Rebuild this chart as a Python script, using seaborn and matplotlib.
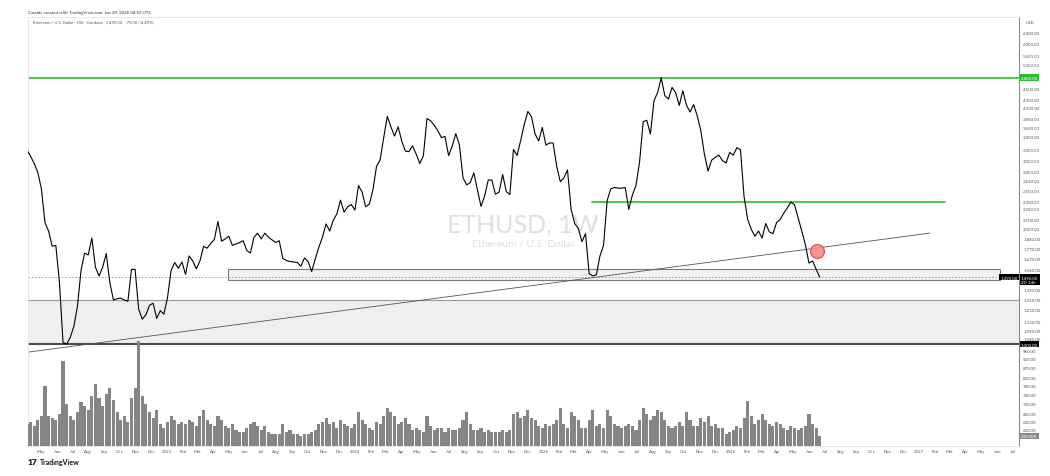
import matplotlib
matplotlib.use("Agg")
from matplotlib import pyplot as plt
import matplotlib.dates as mdates
import matplotlib.transforms as mtrans
from matplotlib.patches import Rectangle
from matplotlib.ticker import FixedLocator, NullLocator
import pandas as pd
import seaborn as sns

# ETHUSD weekly closes (USD), one value per week starting 2022-04-04
FIRST_WEEK = "2022-04-04"
close_2022 = [3180, 3060, 2930, 2780, 2520, 2060, 1960, 1790, 1800, 1450, 1010, 1000, 1040,
              1110, 1250, 1550, 1720, 1700, 1880, 1580, 1500, 1580, 1715, 1440, 1300, 1310,
              1315, 1300, 1290, 1560, 1560, 1230, 1160, 1190, 1260, 1275, 1165, 1220, 1195]
close_2023 = [1320, 1550, 1625, 1570, 1630, 1515, 1690, 1640, 1565, 1640, 1790, 1770, 1820,
              1865, 2075, 1845, 1870, 1900, 1800, 1815, 1830, 1850, 1745, 1720, 1890, 1935,
              1870, 1935, 1890, 1860, 1830, 1850, 1665, 1645, 1635, 1630, 1625, 1590, 1670,
              1635, 1540, 1660, 1780, 1890, 2045, 1960, 2090, 2170, 2355, 2195, 2265, 2295]
close_2024 = [2220, 2570, 2470, 2265, 2300, 2505, 2880, 2995, 3420, 3880, 3645, 3450, 3645,
              3350, 3155, 3145, 3255, 3100, 2930, 3070, 3830, 3780, 3680, 3565, 3420, 3440,
              3070, 3250, 3500, 3270, 2690, 2580, 2615, 2770, 2510, 2270, 2415, 2655, 2655,
              2440, 2470, 2745, 2480, 2435, 3185, 3075, 3360, 3700, 3995, 3870, 3495, 3350, 3630]
close_2025 = [3270, 3310, 3310, 2880, 2630, 2690, 2820, 2230, 2050, 1990, 1840, 1930, 1520,
              1500, 1510, 1690, 1800, 2350, 2520, 2540, 2530, 2530, 2540, 2230, 2430, 2570,
              2960, 3760, 3790, 3490, 4260, 4470, 4880, 4390, 4300, 4610, 4470, 4140, 4520,
              4150, 3980, 4160, 3890, 3560, 3090, 2800, 2990, 3040, 3080, 2980, 2940, 3130]
close_2026 = [3080, 3220, 3180, 2400, 2100, 1980, 1900, 1960, 1880, 2050, 1950, 1930, 2060,
              2100, 2180, 2250, 2330, 2290, 2120, 1960, 1810, 1620, 1640, 1560, 1490]

# weekly volume, thousands of ETH
vol_2022 = [440, 480, 400, 520, 600, 1200, 600, 560, 520, 640, 1700, 840, 600, 520, 680, 880,
            800, 720, 1000, 1240, 960, 800, 1040, 1160, 920, 680, 520, 600, 480, 960, 1160,
            2100, 1000, 840, 680, 560, 720, 440, 360]
vol_2023 = [480, 600, 520, 440, 480, 440, 520, 480, 400, 600, 720, 520, 440, 400, 600, 520,
            400, 360, 440, 320, 280, 280, 360, 440, 480, 400, 320, 400, 280, 240, 240, 240,
            440, 280, 320, 240, 240, 200, 240, 240, 280, 320, 440, 480, 560, 440, 480, 360,
            520, 440, 400, 360]
vol_2024 = [440, 680, 520, 440, 360, 320, 480, 440, 600, 760, 680, 600, 440, 480, 560, 440,
            320, 360, 320, 280, 600, 400, 320, 360, 360, 280, 360, 320, 320, 360, 520, 680,
            440, 320, 320, 360, 280, 320, 280, 280, 280, 320, 280, 320, 640, 680, 560, 600,
            720, 560, 520, 400, 360]
vol_2025 = [440, 400, 440, 520, 760, 440, 360, 680, 600, 520, 360, 360, 520, 720, 400, 440,
            360, 720, 600, 440, 400, 360, 400, 440, 400, 320, 520, 760, 640, 520, 600, 720,
            680, 520, 400, 360, 400, 480, 400, 680, 520, 400, 400, 560, 480, 600, 400, 440,
            360, 360, 240, 280]
vol_2026 = [320, 400, 360, 560, 900, 600, 440, 520, 640, 520, 440, 400, 480, 440, 360, 320,
            400, 360, 320, 360, 400, 640, 440, 360, 200]

# drawn levels and shapes
TOP_LEVEL = 4880.0
MID_LEVEL = 2330.0
MID_LEVEL_SPAN = ("2025-04-05", "2027-02-20")
BIG_ZONE = (1000.0, 1300.0)
SMALL_ZONE = (1460.0, 1560.0)
SMALL_ZONE_SPAN = ("2023-04-29", "2027-06-07")
TREND_A = ("2022-04-06", 953.0)
TREND_B = ("2027-01-22", 1936.0)
MARK = ("2026-06-17", 1740.0)

PRICE_TICKS = [6400, 6000, 5600, 5300, 5000, 4600, 4300, 4100, 3850, 3650, 3450, 3200,
               3000, 2800, 2650, 2500, 2350, 2250, 2100, 2000, 1880, 1770, 1670, 1560,
               1390, 1310, 1230, 1150, 1090, 1040, 960, 920, 870, 820, 780, 740, 700,
               660, 630, 600]

closes = close_2022 + close_2023 + close_2024 + close_2025 + close_2026
volumes = vol_2022 + vol_2023 + vol_2024 + vol_2025 + vol_2026
assert len(closes) == len(volumes)

df = pd.DataFrame({
    "week": pd.date_range(FIRST_WEEK, periods=len(closes), freq="7D"),
    "close": closes,
    "volume": volumes,
})

W, H = 1050, 477
XLIM = (pd.Timestamp("2022-04-06"), pd.Timestamp("2027-07-14"))
YLIM = (545, 7010)
GREEN = "#2dbd2d"


def rect(x0, y0, x1, y1):
    return [x0 / W, 1 - y1 / H, (x1 - x0) / W, (y1 - y0) / H]


sns.set_style("white")
plt.rcParams["font.family"] = ["Lato", "DejaVu Sans"]

fig = plt.figure(figsize=(10.5, 4.77), dpi=100)
ax = fig.add_axes(rect(28, 18, 1019, 447))
vax = fig.add_axes(rect(28, 18, 1019, 447))

# price pane
ax.set_yscale("log")
ax.axhspan(*BIG_ZONE, fc="#efefef", ec="none", zorder=0)
ax.axhline(BIG_ZONE[1], color="#9a9a9a", lw=0.8, zorder=1)
ax.axhline(BIG_ZONE[0], color="#4a4a4a", lw=1.5, zorder=1)
zx0 = mdates.date2num(pd.Timestamp(SMALL_ZONE_SPAN[0]))
zx1 = mdates.date2num(pd.Timestamp(SMALL_ZONE_SPAN[1]))
ax.add_patch(Rectangle((zx0, SMALL_ZONE[0]), zx1 - zx0, SMALL_ZONE[1] - SMALL_ZONE[0],
                       fc="#f1f1f1", ec="#7a7a7a", lw=0.8, zorder=1))
ax.axhline(df["close"].iloc[-1], color="#9a9a9a", lw=0.6, ls=(0, (2, 2)), zorder=1)

ax.text(0.4995, 0.5175, "ETHUSD, 1W", transform=ax.transAxes, ha="center", va="center",
        fontsize=18, color="#e0e0e0", zorder=0)
ax.text(0.4995, 0.473, "Ethereum / U.S. Dollar", transform=ax.transAxes, ha="center",
        va="center", fontsize=7.5, color="#e0e0e0", zorder=0)

ax.axhline(TOP_LEVEL, color=GREEN, lw=1.2, zorder=2)
ax.plot([pd.Timestamp(MID_LEVEL_SPAN[0]), pd.Timestamp(MID_LEVEL_SPAN[1])],
        [MID_LEVEL, MID_LEVEL], color=GREEN, lw=1.2, zorder=2)
ax.plot([pd.Timestamp(TREND_A[0]), pd.Timestamp(TREND_B[0])], [TREND_A[1], TREND_B[1]],
        color="#555555", lw=0.6, zorder=2)

sns.lineplot(data=df, x="week", y="close", ax=ax, color="black", lw=0.8, zorder=3)
ax.plot(pd.Timestamp(MARK[0]), MARK[1], marker="o", ms=10, mfc="#f08a8a", mec="#e04646",
        mew=0.9, alpha=0.9, zorder=4)

ax.set_xlim(*XLIM)
ax.set_ylim(*YLIM)
ax.set_xlabel("")
ax.set_ylabel("")
ax.yaxis.tick_right()
ax.yaxis.set_major_locator(FixedLocator(PRICE_TICKS))
ax.yaxis.set_minor_locator(NullLocator())
ax.set_yticklabels([f"{v:,.2f}" for v in PRICE_TICKS])
ax.tick_params(axis="y", length=0, pad=3, labelsize=3.2, labelcolor="#555555")

months = pd.date_range("2022-05-01", "2027-07-01", freq="MS")
ax.set_xticks(months)
ax.set_xticklabels([str(m.year) if m.month == 1 else m.strftime("%b") for m in months])
ax.tick_params(axis="x", length=0, pad=2, labelsize=3.2, labelcolor="#555555")

for side in ["top", "left", "bottom"]:
    ax.spines[side].set_color("#e4e4e4")
    ax.spines[side].set_linewidth(0.6)
ax.spines["right"].set_color("#8a8a8a")
ax.spines["right"].set_linewidth(0.8)

# volume pane (overlaid at the bottom)
vax.bar(df["week"], df["volume"], width=6, color="#858585", lw=0, zorder=2)
vax.set_xlim(*XLIM)
vax.set_ylim(0, 8580)
vax.patch.set_alpha(0)
vax.axis("off")

# axis labels on the right
blend = mtrans.blended_transform_factory(ax.transAxes, ax.transData)
box = dict(boxstyle="square,pad=0.3", ec="none")
ax.text(1 + 2 / 991, TOP_LEVEL, f"{TOP_LEVEL:,.2f}", transform=blend, ha="left", va="center",
        fontsize=3.2, color="white", bbox={**box, "fc": GREEN}, clip_on=False)
ax.text(1 + 2 / 991, BIG_ZONE[0], f"{BIG_ZONE[0]:,.2f}", transform=blend, ha="left",
        va="center", fontsize=3.2, color="white", bbox={**box, "fc": "black"}, clip_on=False)
last = df["close"].iloc[-1]
prev = df["close"].iloc[-2]
ax.text(1 + 2 / 991, last * 1.012, f"{last:,.2f}\n2D 14h", transform=blend, ha="left",
        va="top", fontsize=3.2, color="white", linespacing=1.3,
        bbox={**box, "fc": "black"}, clip_on=False)
ax.text(1 - 1 / 991, last, f"{last:,.2f}", transform=blend, ha="right", va="center",
        fontsize=3.2, color="white", bbox={**box, "fc": "black"}, clip_on=False)
vblend = mtrans.blended_transform_factory(vax.transAxes, vax.transData)
vax.text(1 + 2 / 991, df["volume"].iloc[-1], f"{df['volume'].iloc[-1]:.2f}K", transform=vblend,
         ha="left", va="center", fontsize=3.2, color="white",
         bbox={**box, "fc": "#8a8a8a"}, clip_on=False)

# header and footer
chg = last - prev
fig.text(28 / W, 1 - 13 / H, "Cassidc created with TradingView.com, Jun 29, 2026 08:53 UTC",
         fontsize=3.2, color="#333333", va="center")
fig.text(33 / W, 1 - 22 / H,
         f"Ethereum / U.S. Dollar · 1W · Coinbase   {last:,.2f}   {chg:+,.2f} ({chg / prev * 100:+.2f}%)",
         fontsize=3.0, color="#555555", va="center")
fig.text(1026 / W, 1 - 23 / H, "USD", fontsize=3.2, color="#555555", va="center")
fig.text(28 / W, 1 - 463 / H, "17", fontsize=6, fontweight="heavy", color="#131722",
         va="center")
fig.text(40 / W, 1 - 463 / H, "TradingView", fontsize=5, fontweight="bold", color="#131722",
         va="center")

fig.savefig("out.png", dpi=100, facecolor="white")
